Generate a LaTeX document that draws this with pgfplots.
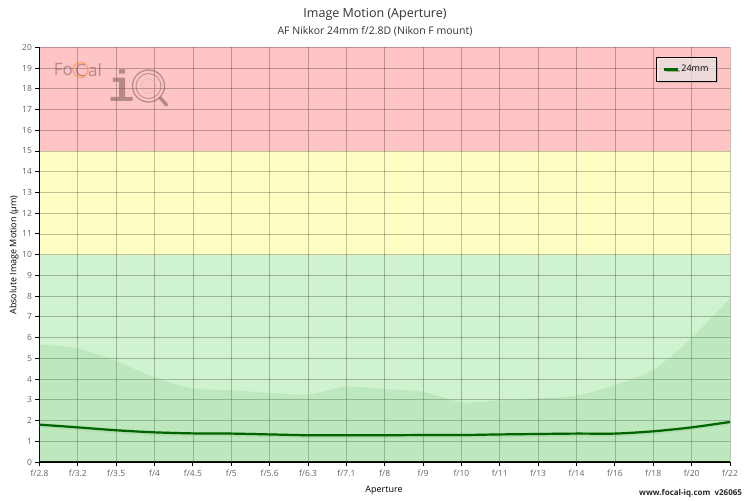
\documentclass[border=0pt]{standalone}
\usepackage{fontspec}
\setmainfont{Open Sans}
\newfontfamily\logofont{Liberation Mono}
\usepackage{pgfplots}
\pgfplotsset{compat=1.18}
\usetikzlibrary{shadows}

\definecolor{zonered}{RGB}{255,196,196}
\definecolor{zoneyellow}{RGB}{255,255,196}
\definecolor{zonegreen}{RGB}{207,242,207}
\definecolor{lensline}{RGB}{0,100,0}
\definecolor{envgreen}{RGB}{100,180,100}
\definecolor{ticktext}{RGB}{100,100,100}
\definecolor{logogrey}{RGB}{110,80,80}

\begin{document}
\begin{tikzpicture}
\begin{axis}[
  set layers=standard,
  scale only axis,
  width=690.5pt, height=414.7pt,
  xmin=0, xmax=18, ymin=0, ymax=20,
  axis lines=left,
  axis line style={-, black, line width=1.1pt},
  xtick={0,...,18},
  xticklabels={f/2.8,f/3.2,f/3.5,f/4,f/4.5,f/5,f/5.6,f/6.3,f/7.1,f/8,f/9,f/10,f/11,f/13,f/14,f/16,f/18,f/20,f/22},
  ytick={0,...,20},
  tick align=outside,
  major tick length=4pt,
  tick style={black, line width=0.9pt},
  ticklabel style={font=\fontsize{8.5}{10}\selectfont, text=ticktext},
  /pgf/number format/assume math mode=true,
  grid=major,
  grid style={black, opacity=0.25, line width=0.8pt},
  legend style={at={(0.981,0.977)}, anchor=north east,
    draw=black, line width=0.9pt, fill=white, fill opacity=0.55, text opacity=1, draw opacity=1,
    drop shadow={shadow xshift=2pt, shadow yshift=-2pt, opacity=0.3},
    font=\fontsize{9}{11}\selectfont, inner xsep=6pt, inner ysep=6pt},
  legend image code/.code={\draw[#1, line width=2.6pt] (0pt,0pt) -- (14pt,0pt);},
  legend cell align=left,
]
\begin{pgfonlayer}{axis background}
  \fill[zonegreen] (axis cs:0,0) rectangle (axis cs:18,10);
  \fill[zoneyellow] (axis cs:0,10) rectangle (axis cs:18,15);
  \fill[zonered] (axis cs:0,15) rectangle (axis cs:18,20);
\end{pgfonlayer}

% spread of measured values
\addplot[draw=none, fill=envgreen, fill opacity=0.16, smooth, forget plot] coordinates {
(0,5.66) (1,5.47) (2,4.86) (3,4.08) (4,3.55) (5,3.46) (6,3.33) (7,3.25) (8,3.63)
(9,3.52) (10,3.38) (11,2.88) (12,2.97) (13,3.07) (14,3.20) (15,3.70) (16,4.45)
(17,5.98) (18,7.91)
} \closedcycle;

% light halo under the line
\addplot[smooth, line width=4.5pt, color=lensline, opacity=0.07, forget plot] coordinates {
(0,1.77) (1,1.64) (2,1.50) (3,1.40) (4,1.35) (5,1.34) (6,1.30) (7,1.26) (8,1.26)
(9,1.26) (10,1.27) (11,1.27) (12,1.30) (13,1.32) (14,1.34) (15,1.34) (16,1.45)
(17,1.64) (18,1.90)
};

% 24mm
\addplot[smooth, line width=2.2pt, color=lensline] coordinates {
(0,1.80) (1,1.67) (2,1.53) (3,1.43) (4,1.38) (5,1.37) (6,1.33) (7,1.29) (8,1.29)
(9,1.29) (10,1.30) (11,1.30) (12,1.33) (13,1.35) (14,1.37) (15,1.37) (16,1.48)
(17,1.67) (18,1.93)
};
\addlegendentry{24mm}

\draw[black!20, line width=1pt] (axis cs:18,0) -- (axis cs:18,20);
\end{axis}

% titles and labels
\node[text=black!80, font=\fontsize{12.5}{14}\selectfont] at (335.5pt,448pt) {Image Motion (Aperture)};
\node[text=black!80, font=\fontsize{10.5}{12}\selectfont] at (335.5pt,431pt) {AF Nikkor 24mm f/2.8D (Nikon F mount)};
\node[rotate=90, font=\fontsize{9}{11}\selectfont] at (-25.5pt,207pt) {Absolute Image Motion (µm)};
\node[font=\fontsize{9}{11}\selectfont] at (344.5pt,-28pt) {Aperture};
\node[anchor=east, font=\bfseries\fontsize{8}{10}\selectfont, text=black!85] at (706pt,-31pt) {www.focal-iq.com\ \ v26065};

% watermark logo
\begin{scope}[opacity=0.5]
  \node[anchor=east, inner xsep=0pt, text=logogrey, font=\fontsize{17}{19}\selectfont] at (33.5pt,392pt) {Fo};
  \draw[orange, line width=1.2pt] (41pt,392pt) circle (7.5pt);
  \node[inner sep=0pt, text=logogrey, font=\fontsize{17}{19}\selectfont] at (41pt,392pt) {C};
  \node[anchor=west, inner xsep=0pt, text=logogrey, font=\fontsize{17}{19}\selectfont] at (48.5pt,392pt) {al};
  \node[text=logogrey, font=\logofont\bfseries\fontsize{44}{46}\selectfont] at (82pt,376pt) {i};
  \draw[logogrey, line width=1.2pt] (109pt,376pt) circle (16pt);
  \draw[logogrey, line width=0.8pt] (109pt,376pt) circle (12.5pt);
  \draw[logogrey!40, line width=0.8pt] (109pt,376pt) circle (7pt);
  \draw[logogrey, line width=3.5pt, line cap=round] (121pt,364pt) -- (127pt,357pt);
\end{scope}
\useasboundingbox (-39.5pt,-38pt) rectangle (710.5pt,462pt);
\end{tikzpicture}
\end{document}
